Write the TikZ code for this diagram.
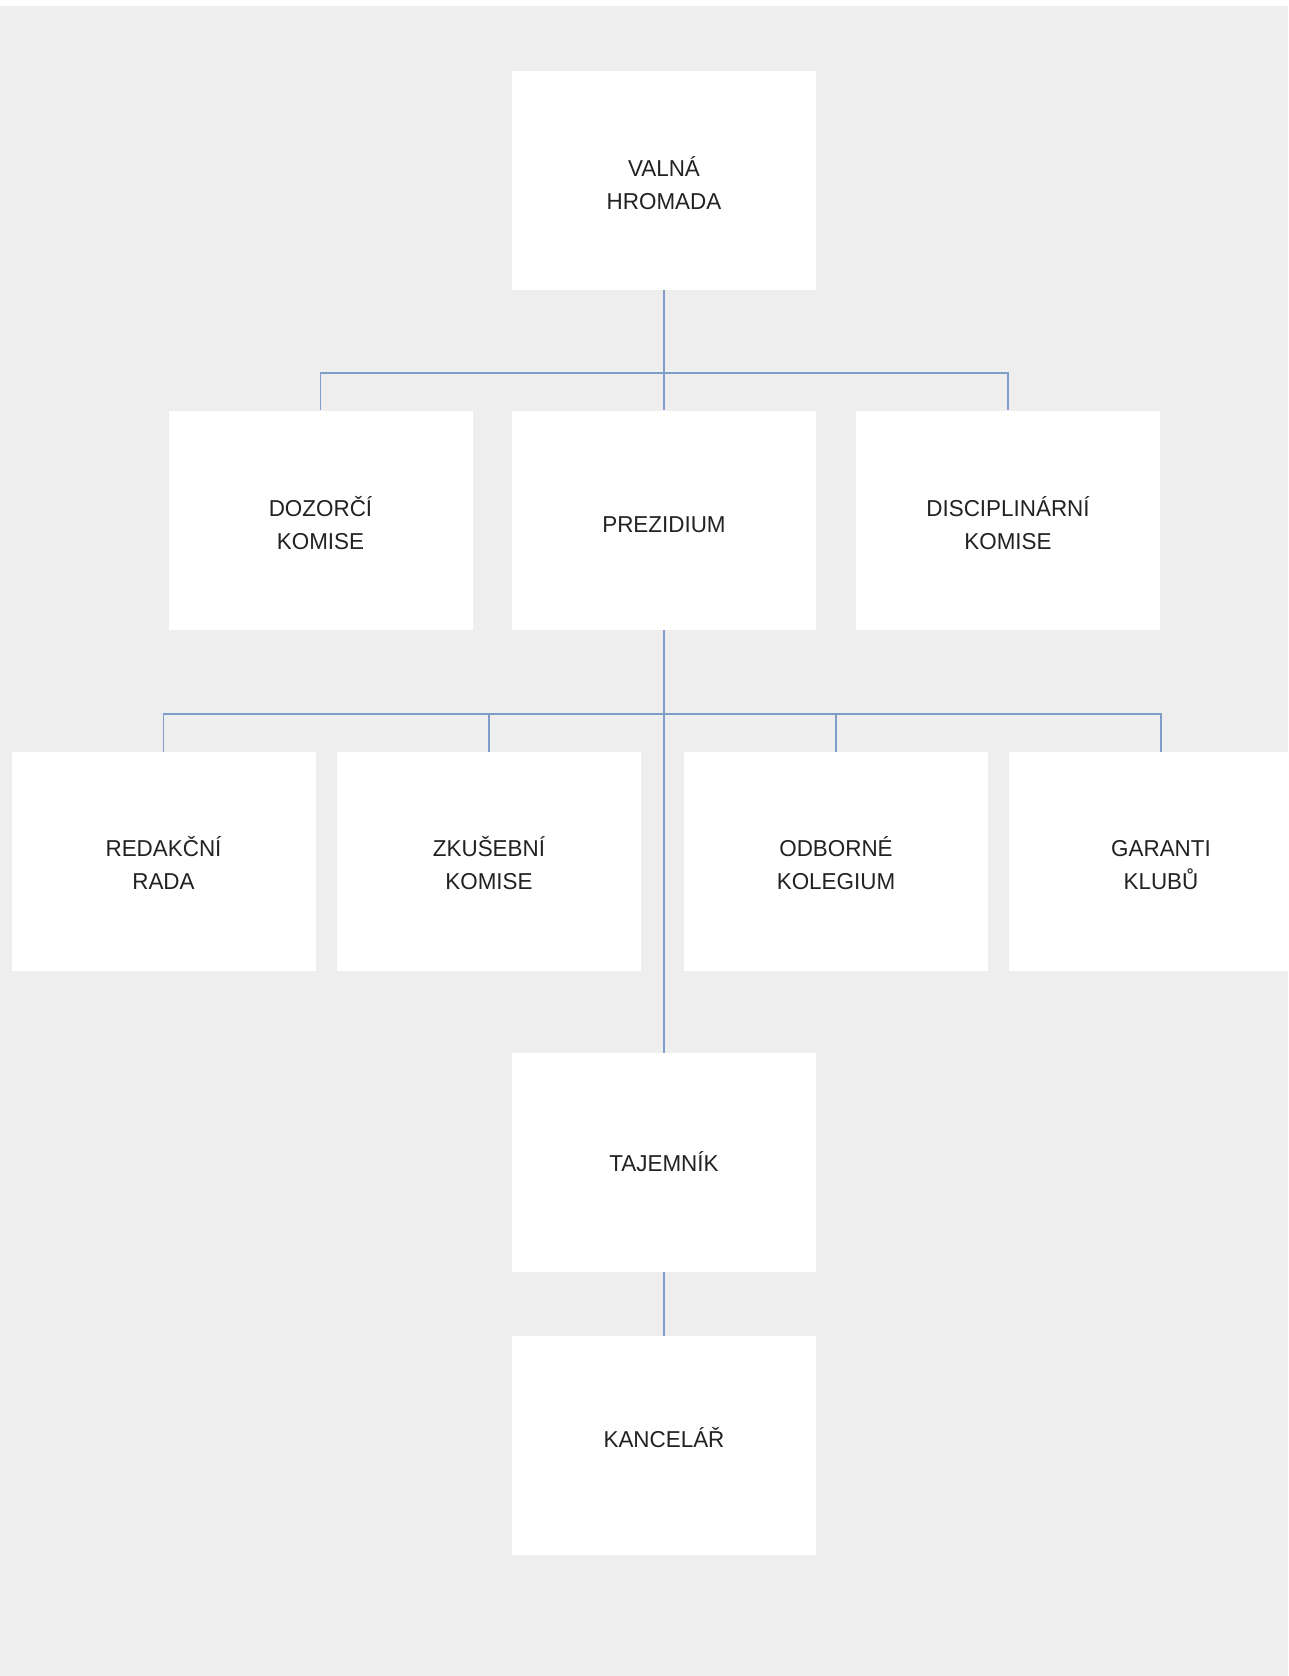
\documentclass[tikz,border=0pt]{standalone}
\usepackage{fontspec}
\setmainfont{Liberation Sans}[FakeStretch=0.975]
\definecolor{bg}{RGB}{237,238,237}
\definecolor{conn}{RGB}{127,157,201}
\definecolor{txt}{RGB}{34,34,34}
\newcommand{\twoline}[2]{\begin{tabular}[t]{@{}c@{}}#1\\#2\end{tabular}}
\begin{document}
\begin{tikzpicture}[x=1pt,y=-1pt,
  orgbox/.style={fill=white, draw=none, minimum width=304pt, minimum height=219pt,
    inner sep=0pt, align=center, text=txt, font=\fontsize{23}{32.5}\selectfont},
  up/.style={text height=0pt, text depth=#1},
  down/.style={text height=#1, text depth=0pt},
  link/.style={draw=conn, line width=1.9pt}]
\useasboundingbox (0,0) rectangle (1288,1676);
\clip (0,0) rectangle (1288,1676);
\fill[bg] (0,6) rectangle (1288,1676);
% nodes
\node[orgbox, up=7.6pt] (valna) at (664,180.5) {\twoline{VALNÁ}{HROMADA}};
\node[orgbox, up=6.6pt] (dozor) at (320.5,520) {\twoline{DOZORČÍ}{KOMISE}};
\node[orgbox, down=24pt] (prez) at (664,520) {PREZIDIUM};
\node[orgbox, up=6.6pt] (disc) at (1008,520) {\twoline{DISCIPLINÁRNÍ}{KOMISE}};
\node[orgbox, up=9.6pt] (redak) at (163.5,861.5) {\twoline{REDAKČNÍ}{RADA}};
\node[orgbox, up=9.6pt] (zkus) at (489,861.5) {\twoline{ZKUŠEBNÍ}{KOMISE}};
\node[orgbox, up=9.6pt] (odb) at (836,861.5) {\twoline{ODBORNÉ}{KOLEGIUM}};
\node[orgbox, up=9.6pt] (gar) at (1161,861.5) {\twoline{GARANTI}{KLUBŮ}};
\node[orgbox, down=17pt] (taj) at (664,1162.5) {TAJEMNÍK};
\node[orgbox, down=3pt] (kanc) at (664,1445.5) {KANCELÁŘ};
% bus coordinates
\coordinate (busA) at (664,373);
\coordinate (busB) at (664,714);
% connectors
\draw[link] (valna.south) -- (prez.north);
\draw[link] (dozor.north) -- (dozor.north |- busA) -- (disc.north |- busA) -- (disc.north);
\draw[link] (prez.south) -- (taj.north);
\draw[link] (redak.north) -- (redak.north |- busB) -- (gar.north |- busB) -- (gar.north);
\draw[link] (zkus.north) -- (zkus.north |- busB);
\draw[link] (odb.north) -- (odb.north |- busB);
\draw[link] (taj.south) -- (kanc.north);
\end{tikzpicture}
\end{document}
